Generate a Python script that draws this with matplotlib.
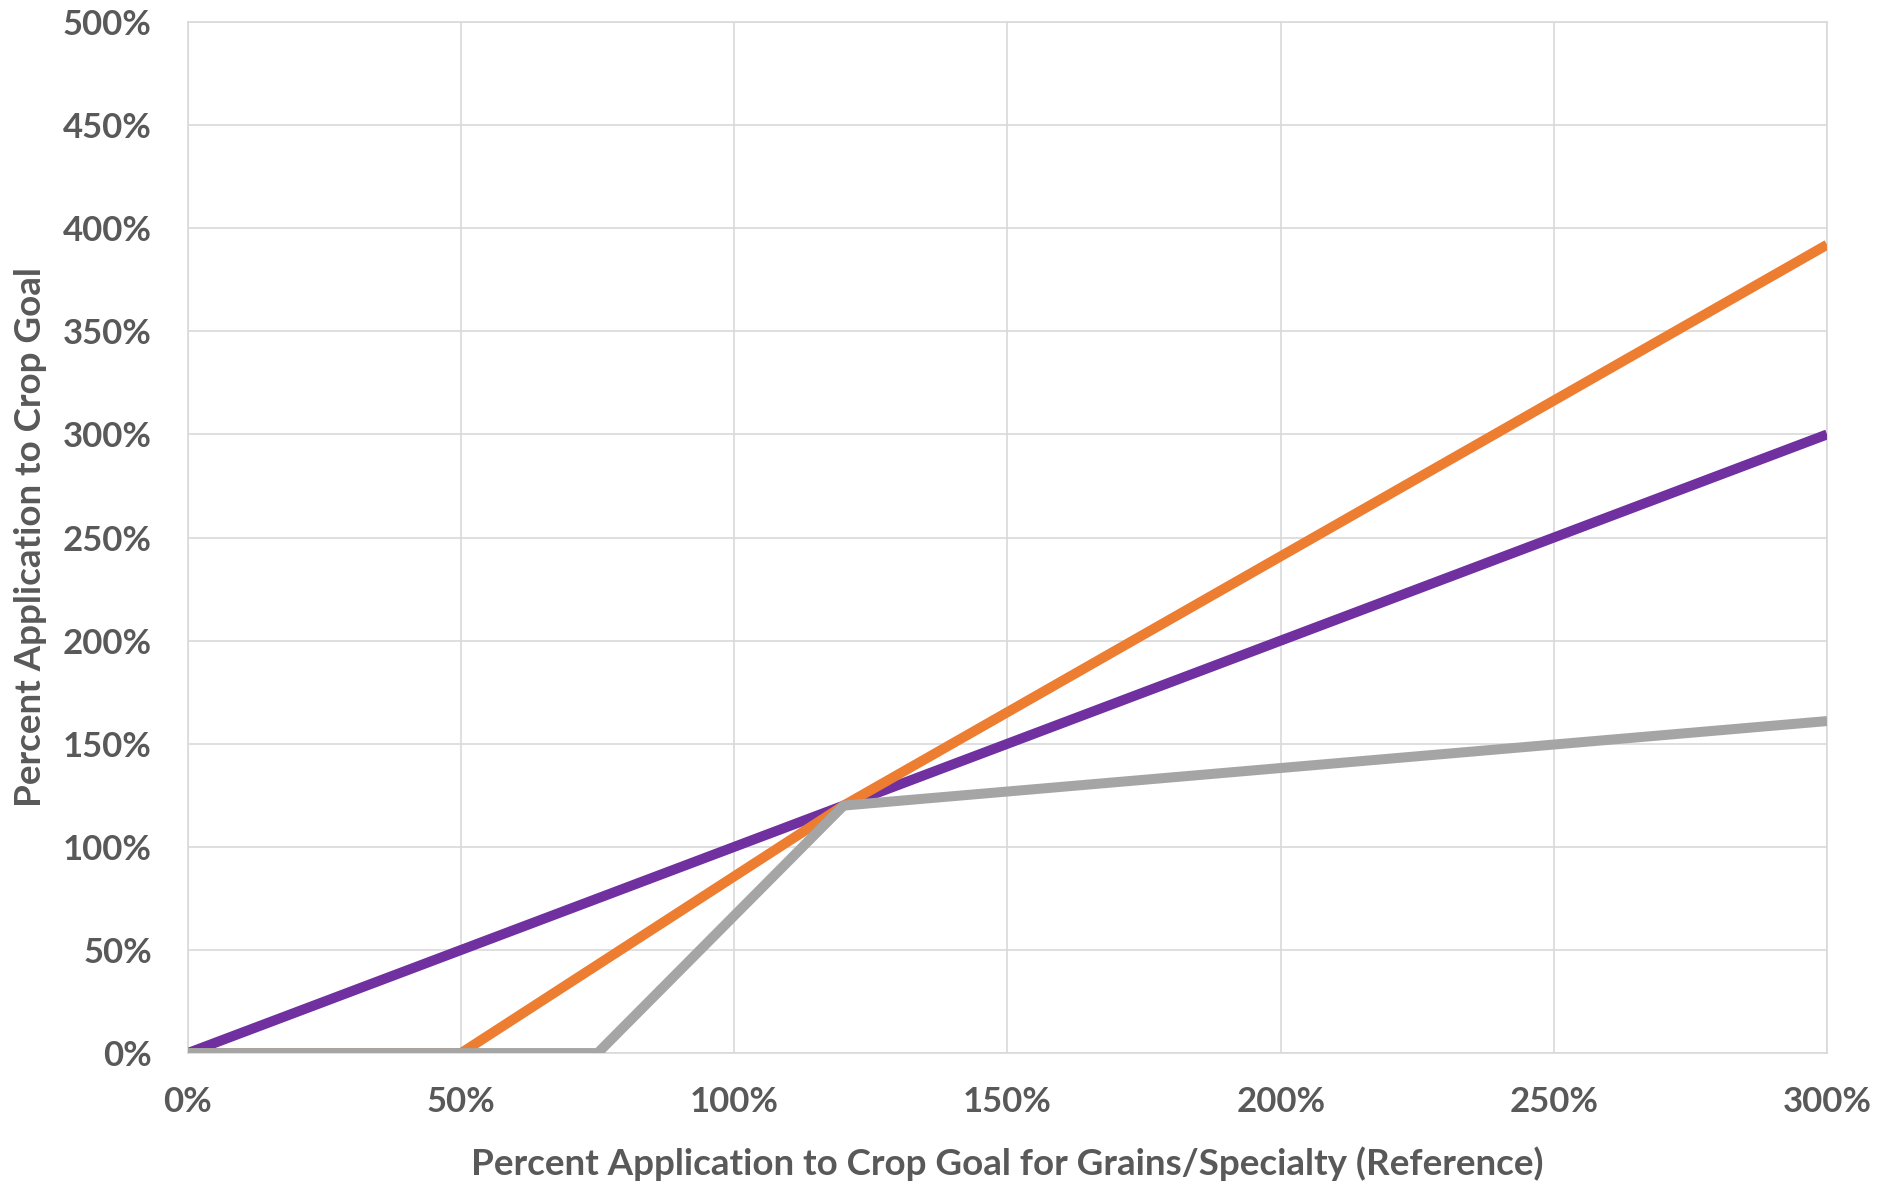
import matplotlib.pyplot as plt
from matplotlib.ticker import FuncFormatter

plt.rcParams['font.family'] = ['Lato', 'DejaVu Sans']

# reference application (% of crop goal, grains/specialty)
purple_x = [0, 300]
purple_y = [0, 300]
orange_x = [0, 50, 120, 300]
orange_y = [0, 0, 120, 392]
gray_x = [0, 75, 120, 300]
gray_y = [0, 0, 120, 161]

grid_color = '#D9D9D9'
text_color = '#595959'

fig = plt.figure(figsize=(18.83, 11.84), dpi=100)
ax = fig.add_axes([0.0998, 0.1106, 0.8705, 0.8708])

# drawing order as in the source: purple under orange under gray
ax.plot(purple_x, purple_y, color='#7030A0', lw=7.2, solid_capstyle='butt', zorder=3)
ax.plot(orange_x, orange_y, color='#ED7D31', lw=7.2, solid_capstyle='butt', zorder=4)
ax.plot(gray_x, gray_y, color='#A5A5A5', lw=7.2, solid_capstyle='butt', zorder=5)

ax.set_xlim(0, 300)
ax.set_ylim(0, 500)
ax.set_xticks(range(0, 301, 50))
ax.set_yticks(range(0, 501, 50))
pct = FuncFormatter(lambda v, _: f'{v:.0f}%')
ax.xaxis.set_major_formatter(pct)
ax.yaxis.set_major_formatter(pct)
ax.grid(True, color=grid_color, lw=1.2)
ax.set_axisbelow(True)
for s in ax.spines.values():
    s.set_color(grid_color)
    s.set_linewidth(1.2)
ax.tick_params(length=0, labelsize=25, labelcolor=text_color)
ax.tick_params(axis='x', pad=24)
ax.tick_params(axis='y', pad=26)
for lab in ax.get_xticklabels() + ax.get_yticklabels():
    lab.set_fontweight('bold')

ax.set_xlabel('Percent Application to Crop Goal for Grains/Specialty (Reference)',
              fontsize=26.5, fontweight='bold', color=text_color, va='center')
ax.set_ylabel('Percent Application to Crop Goal',
              fontsize=26.5, fontweight='bold', color=text_color, va='center')
ax.xaxis.set_label_coords(0.5, -0.107)
ax.yaxis.set_label_coords(-0.096, 0.5)

fig.savefig('out.png', dpi=100)
